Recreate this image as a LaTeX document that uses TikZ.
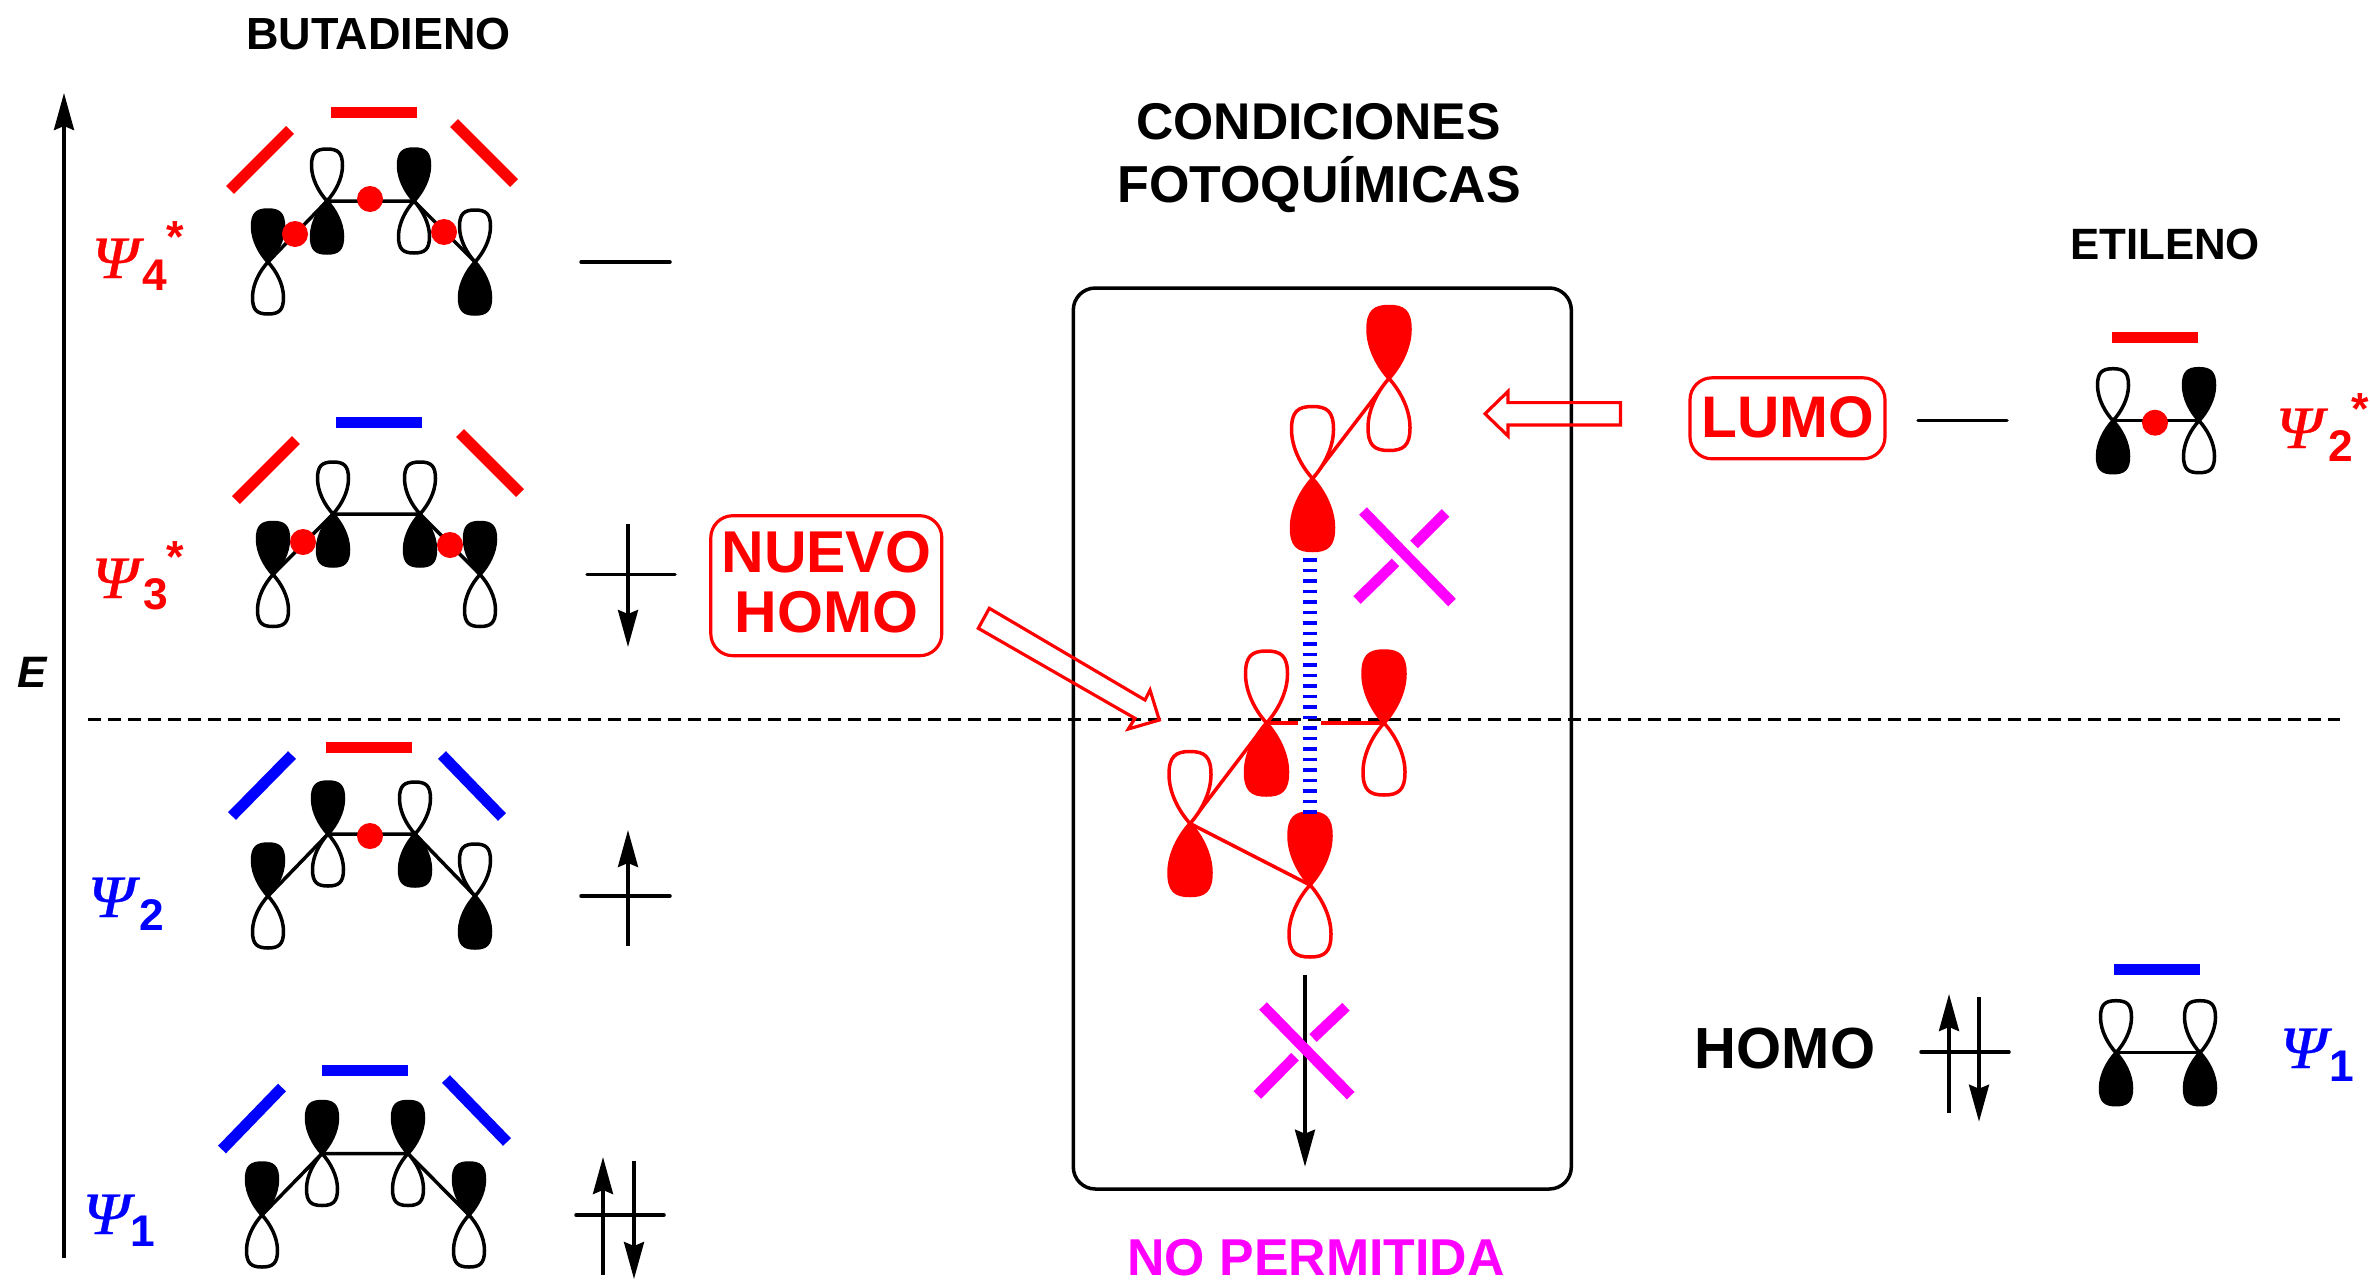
\documentclass[tikz,border=0pt]{standalone}
\usepackage{fontspec}
\setmainfont{Liberation Sans}
\newfontfamily\psifont[FakeStretch=1.12,FakeBold=0.6]{Liberation Serif Italic}
\usetikzlibrary{arrows.meta}
\definecolor{pmag}{RGB}{255,0,255}
\tikzset{
  lk/.style={draw=black,fill=black},
  lw/.style={draw=black,fill=white},
  lr/.style={draw=red,fill=red},
  lo/.style={draw=red,fill=white},
  bond/.style={line width=1.05pt,draw=black},
  rbond/.style={line width=1.05pt,draw=red},
  redbar/.style={line width=3.3pt,draw=red},
  bluebar/.style={line width=3.3pt,draw=blue},
  xbar/.style={line width=3.2pt,draw=pmag},
  dotr/.style={fill=red,circle,inner sep=0pt,minimum size=7.8pt},
  level/.style={line width=1.05pt,line cap=round},
  spin/.style={line width=1.1pt,-{Stealth[length=11.1pt,width=6pt,inset=1.2pt]}},
  block/.style={draw=red,line width=0.95pt,line join=miter},
  txt/.style={inner sep=0pt,outer sep=0pt,font=\bfseries},
  psi/.style={inner sep=0pt,anchor=base west,font=\psifont\fontsize{18}{20}\selectfont},
  subs/.style={inner sep=0pt,anchor=base west,font=\bfseries\fontsize{13.3}{15}\selectfont},
  star/.style={inner sep=0pt,anchor=base,font=\bfseries\fontsize{13.5}{15}\selectfont},
}
\newcommand\lobeshape[4]{\begin{scope}[shift={(#1)},xscale=#2,yscale=#3]
  \path[line width=1.05pt,line join=round,#4] (0,0) .. controls (-.5,.16) and (-1,.42) .. (-1,.68)
   .. controls (-1,.93) and (-.7,1) .. (0,1) .. controls (.7,1) and (1,.93) .. (1,.68)
   .. controls (1,.42) and (.5,.16) .. (0,0) -- cycle;
\end{scope}}
\newcommand\orb[3]{\lobeshape{#1}{15.5}{-52}{#2}\lobeshape{#1}{15.5}{52}{#3}}
\newcommand\orbL[3]{\lobeshape{#1}{21}{-72}{#2}\lobeshape{#1}{21}{72}{#3}}
\begin{document}
\begin{tikzpicture}[x=0.3pt,y=-0.3pt]
\useasboundingbox[fill=white] (0,0) rectangle (2370,1279);

% titles
\node[txt,anchor=base,font=\bfseries\fontsize{13.5}{16}\selectfont] (tbut) at (378.5,50) {BUTADIENO};
\node[txt,anchor=base,font=\bfseries\fontsize{15.5}{18}\selectfont] (tcon) at (1318.5,139.5) {CONDICIONES};
\node[txt,anchor=base,font=\bfseries\fontsize{15.6}{18}\selectfont] (tfot) at (1319,202.7) {FOTOQUÍMICAS};
\node[txt,anchor=base,font=\bfseries\fontsize{13.15}{15}\selectfont] (teti) at (2165,259.5) {ETILENO};
\node[txt,anchor=base,text=pmag,font=\bfseries\fontsize{15.55}{18}\selectfont] (tnop) at (1316,1275) {NO PERMITIDA};

% energy axis and frontier line
\coordinate (axb) at (64,1258); \coordinate (axt) at (64,93);
\draw[spin] (axb) -- (axt);
\node[txt,anchor=base west,font=\bfseries\itshape\fontsize{13.2}{15}\selectfont] (elab) at (17,687) {E};
\coordinate (dl) at (88,719.5); \coordinate (dr) at (2340,719.5);
\draw[line width=1pt,dash pattern=on 3.9pt off 2.1pt] (dl) -- (dr);

% central box
\node[draw,line width=1.05pt,rounded corners=6.6pt,minimum width=149.4pt,minimum height=270.3pt,inner sep=0pt] (cbox) at (1322.3,738.5) {};

% psi4*
\coordinate (a1) at (268,262); \coordinate (a2) at (327,201); \coordinate (a3) at (414,201); \coordinate (a4) at (475,262);
\draw[bond] (a1)--(a2)--(a3)--(a4);
\orb{a1}{lk}{lw}\orb{a2}{lw}{lk}\orb{a3}{lk}{lw}\orb{a4}{lw}{lk}
\node[dotr] (ad1) at (295,234) {}; \node[dotr] (ad2) at (370,199) {}; \node[dotr] (ad3) at (444,232) {};
\draw[redbar] (331,112.5) -- (417,112.5);
\draw[redbar] (230,190) -- (290,130);
\draw[redbar] (454,123) -- (514,183);
\node[psi,red] (pa) at (91,278) {Ψ}; \node[subs,red] (sa) at (142,290) {4}; \node[star,red] (sta) at (175,252) {*};
\draw[level] (581,262) -- (670,262);

% psi3*
\coordinate (b1) at (273,574.5); \coordinate (b2) at (333,514); \coordinate (b3) at (420,514); \coordinate (b4) at (480,574.5);
\draw[bond] (b1)--(b2)--(b3)--(b4);
\orb{b1}{lk}{lw}\orb{b2}{lw}{lk}\orb{b3}{lw}{lk}\orb{b4}{lk}{lw}
\node[dotr] (bd1) at (303,542) {}; \node[dotr] (bd2) at (450,545) {};
\draw[bluebar] (336,422.5) -- (422,422.5);
\draw[redbar] (236,500) -- (296,440);
\draw[redbar] (460,433) -- (520,493);
\node[psi,red] (pb) at (91,598) {Ψ}; \node[subs,red] (sb) at (143,609) {3}; \node[star,red] (stb) at (175,572) {*};
\draw[level] (587,574.5) -- (675,574.5);
\draw[spin] (628,524) -- (628,647);

% psi2
\coordinate (c1) at (268,896); \coordinate (c2) at (328,834); \coordinate (c3) at (415,834); \coordinate (c4) at (475,896);
\draw[bond] (c1)--(c2)--(c3)--(c4);
\orb{c1}{lk}{lw}\orb{c2}{lk}{lw}\orb{c3}{lw}{lk}\orb{c4}{lw}{lk}
\node[dotr] (cd1) at (370,836) {};
\draw[redbar] (326,747.5) -- (412,747.5);
\draw[bluebar] (232,816) -- (292,755);
\draw[bluebar] (442,755) -- (502,817);
\node[psi,blue] (pc) at (87,917) {Ψ}; \node[subs,blue] (sc) at (139,930) {2};
\draw[level] (581,896) -- (670,896);
\draw[spin] (628,946) -- (628,830);

% psi1
\coordinate (d1) at (262,1215); \coordinate (d2) at (322,1153.5); \coordinate (d3) at (408,1153.5); \coordinate (d4) at (469,1215);
\draw[bond] (d1)--(d2)--(d3)--(d4);
\orb{d1}{lk}{lw}\orb{d2}{lk}{lw}\orb{d3}{lk}{lw}\orb{d4}{lk}{lw}
\draw[bluebar] (322,1070.5) -- (408,1070.5);
\draw[bluebar] (222,1149.5) -- (282,1087.5);
\draw[bluebar] (446,1079) -- (507,1142);
\node[psi,blue] (pd) at (82,1234) {Ψ}; \node[subs,blue] (sd) at (130,1246) {1};
\draw[level] (576,1215) -- (664,1215);
\draw[spin] (603,1275) -- (603,1157);
\draw[spin] (634,1160.6) -- (634,1279);

% labels
\node[draw=red,line width=0.95pt,rounded corners=6.6pt,text=red,align=center,minimum width=69.3pt,minimum height=42pt,inner sep=0pt,font=\bfseries\fontsize{17.7}{18}\selectfont] (nuevo) at (826.3,585.7) {NUEVO\\HOMO\rule[-2pt]{0pt}{2pt}};
\node[draw=red,line width=0.95pt,rounded corners=6.6pt,text=red,minimum width=58.5pt,minimum height=24.3pt,inner sep=0pt,text height=12.7pt,text depth=1.4pt,font=\bfseries\fontsize{17.6}{18}\selectfont] (lumo) at (1787.5,418.3) {LUMO};
\node[txt,anchor=base,font=\bfseries\fontsize{17.4}{18}\selectfont] (homo) at (1785,1068) {HOMO};

% block arrows
\draw[block] (989.3,608.3) -- (978.3,628.3) -- (1135,718.3) -- (1128.3,729) -- (1159.3,720) -- (1150,690) -- (1145,700) -- cycle;
\draw[block] (1620.5,402.6) -- (1508,402.6) -- (1508,391.4) -- (1485,413.75) -- (1508,436) -- (1508,425) -- (1620.5,425) -- cycle;

% central structure
\coordinate (ea) at (1389,378.5); \coordinate (eb) at (1312.5,478.5);
\coordinate (ec) at (1266.5,723); \coordinate (ed) at (1384,723);
\coordinate (ee) at (1190,823.5); \coordinate (ef) at (1310,885);
\coordinate (gl) at (1298,723); \coordinate (gr) at (1321,723);
\draw[rbond] (eb)--(ea);
\draw[rbond] (ec)--(gl); \draw[rbond] (gr)--(ed);
\draw[rbond] (ec)--(ee)--(ef);
\orbL{ea}{lr}{lo}\orbL{eb}{lo}{lr}\orbL{ec}{lo}{lr}\orbL{ed}{lr}{lo}\orbL{ee}{lo}{lr}\orbL{ef}{lr}{lo}
\draw[blue,line width=4.05pt,dash pattern=on 1.05pt off 2.1pt] (1310,558) -- (1310,814);

% forbidden crosses
\draw[xbar] (1363,511) -- (1452,602.6);
\draw[xbar] (1445.5,513) -- (1414,544.5);
\draw[xbar] (1395.5,562.4) -- (1357,600);
\draw[spin] (1305,975) -- (1305,1166.7);
\draw[xbar] (1263,1006) -- (1350.7,1095.7);
\draw[xbar] (1346,1006.7) -- (1313,1038);
\draw[xbar] (1295,1056.7) -- (1257.3,1095);

% ethylene psi2*
\coordinate (f1) at (2113,420.7); \coordinate (f2) at (2199,420.7);
\draw[bond] (f1)--(f2);
\orb{f1}{lw}{lk}\orb{f2}{lk}{lw}
\node[dotr] (fd) at (2155,422.7) {};
\draw[redbar] (2112,337.5) -- (2198,337.5);
\draw[level] (1918,420.7) -- (2007,420.7);
\node[psi,red] (pf) at (2275,448) {Ψ}; \node[subs,red] (sf) at (2328,461) {2}; \node[star,red] (stf) at (2360,424) {*};

% ethylene psi1
\coordinate (g1) at (2116,1052.7); \coordinate (g2) at (2200,1052.7);
\draw[bond] (g1)--(g2);
\orb{g1}{lw}{lk}\orb{g2}{lw}{lk}
\draw[bluebar] (2114,969.4) -- (2200,969.4);
\draw[level] (1921,1052) -- (2009,1052);
\draw[spin] (1949,1112.7) -- (1949,994);
\draw[spin] (1979,997) -- (1979,1121.7);
\node[psi,blue] (pg) at (2279,1068) {Ψ}; \node[subs,blue] (sg) at (2329,1081) {1};
\end{tikzpicture}
\end{document}
